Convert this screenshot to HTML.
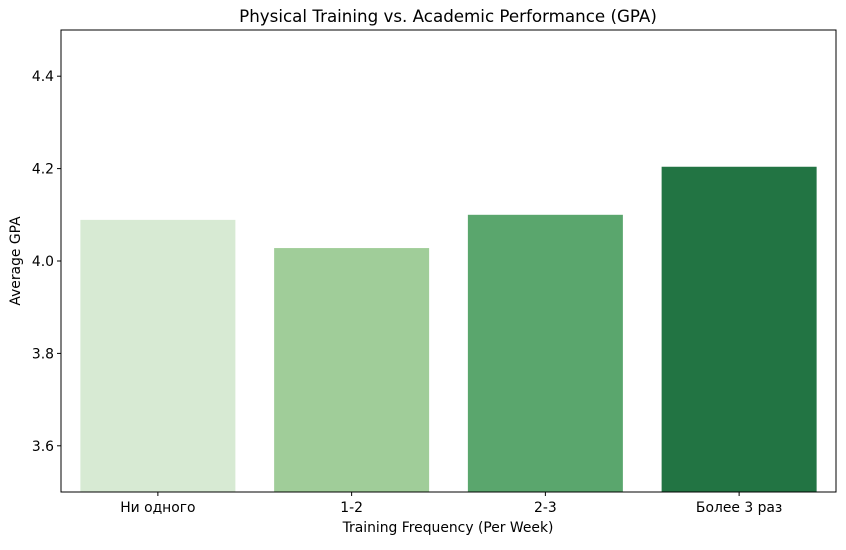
<!DOCTYPE html>
<html><head><meta charset="utf-8"><style>
body{margin:0;background:#fff;font-family:"Liberation Sans","DejaVu Sans",sans-serif;}
svg text{font-family:"DejaVu Sans","Liberation Sans",sans-serif;fill:#000;}
</style></head><body>
<svg width="846" height="545" id="c">
<text x="448" y="22" text-anchor="middle" font-size="16.7">Physical Training vs. Academic Performance (GPA)</text>
<text x="448" y="532" text-anchor="middle" font-size="13.9">Training Frequency (Per Week)</text>
<text transform="translate(20,261) rotate(-90)" text-anchor="middle" font-size="13.9">Average GPA</text>
<g id="bars"></g><g id="axes"></g>
</svg>
<script>
const categories=["Ни одного","1-2","2-3","Более 3 раз"];
const gpaValues=[4.089,4.028,4.100,4.204];
const barColors=["#d7ead3","#a0cd99","#5aa66d","#227443"];
const yTicks=[3.6,3.8,4.0,4.2,4.4];
const yTickLabels=["3.6","3.8","4.0","4.2","4.4"];
const L=61,R=836,T=30,B=492,yMin=3.5,yMax=4.5;
const ns="http://www.w3.org/2000/svg";
const y=v=>B-(v-yMin)/(yMax-yMin)*(B-T);
const band=(R-L)/categories.length;
const x=i=>L+band*(i+0.5);
function mk(t,a,p){const e=document.createElementNS(ns,t);for(const k in a)e.setAttribute(k,a[k]);p.appendChild(e);return e;}
const bars=document.getElementById('bars'),axes=document.getElementById('axes');
categories.forEach((c,i)=>{
 const w=band*0.8;
 const r=mk('rect',{x:x(i)-w/2,y:y(gpaValues[i]),width:w,height:B-y(gpaValues[i]),fill:barColors[i]},bars);
 
 
 const tk=mk('line',{x1:x(i),x2:x(i),y1:B,y2:B+4,stroke:'#000','stroke-width':1},axes);
 
 
 const t=mk('text',{x:x(i),y:B+20,'text-anchor':'middle','font-size':13.9},axes);
 t.textContent=c;
 
 
});
yTicks.forEach((v,i)=>{
 const tk=mk('line',{x1:L-4,x2:L,y1:y(v),y2:y(v),stroke:'#000','stroke-width':1},axes);
 
 
 const t=mk('text',{x:L-7,y:y(v)+5,'text-anchor':'end','font-size':13.9},axes);
 t.textContent=yTickLabels[i];
 
 
});
const f=mk('rect',{x:L,y:T,width:R-L,height:B-T,fill:'none',stroke:'#000','stroke-width':1},axes);


</script>
</body></html>
